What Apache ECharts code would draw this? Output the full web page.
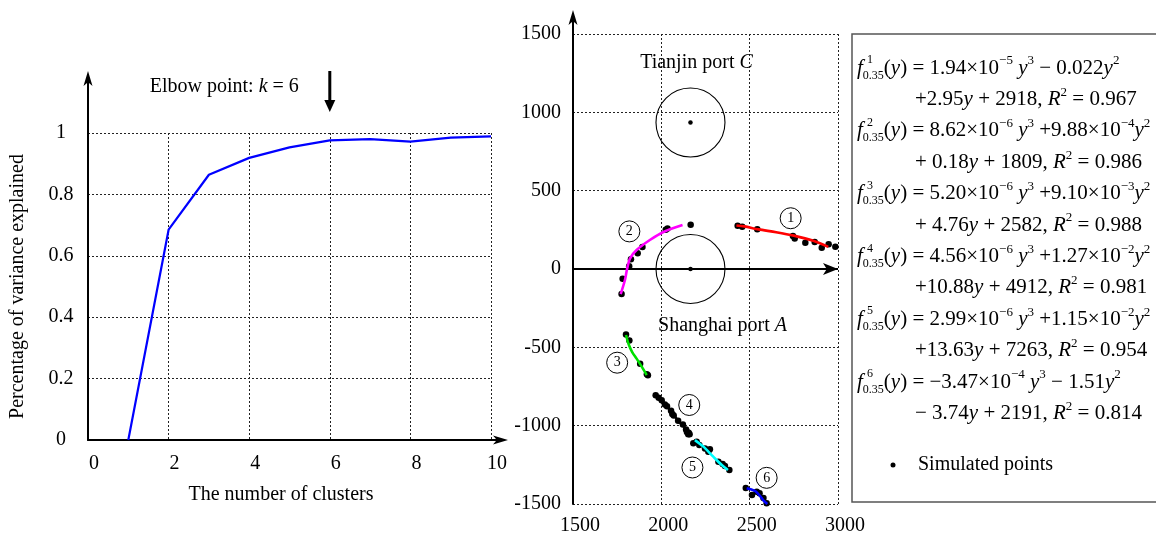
<!DOCTYPE html>
<html><head><meta charset="utf-8">
<script src="https://cdn.jsdelivr.net/npm/echarts@6/dist/echarts.min.js"></script>
<style>html,body{margin:0;padding:0;background:#fff}#c{width:1156px;height:536px}</style>
</head><body><div id="c"></div>
<script>
// ---------- data ----------
const kValues = [1, 2, 3, 4, 5, 6, 7, 8, 9, 10];
const varianceExplained = [0, 0.685, 0.864, 0.919, 0.953, 0.976, 0.980, 0.972, 0.985, 0.989];

const cluster1Points = [[2432,276],[2458,270],[2543,253],[2745,210],[2755,195],[2815,168],[2868,172],[2908,135],[2947,158],[2985,142]];
const cluster1Fit = [[2425,278],[2470,272],[2550,253],[2650,235],[2750,213],[2860,180],[2945,141]];
const cluster2Points = [[1775,-160],[1781,-62],[1818,18],[1828,62],[1866,100],[1893,140],[2025,250],[2035,258],[2166,283]];
const cluster2Fit = [[1770,-160],[1794,-70],[1806,0],[1823,68],[1860,121],[1935,185],[2015,238],[2120,281]];
const cluster3Points = [[1800,-418],[1819,-457],[1880,-604],[1918,-672],[1924,-678]];
const cluster3Fit = [[1800,-421],[1815,-480],[1835,-530],[1860,-572],[1890,-625],[1917,-677]];
const cluster4Points = [[1968,-806],[1985,-822],[2002,-838],[2020,-865],[2032,-876],[2055,-905],[2062,-925],[2070,-935],[2095,-968],[2122,-992],[2140,-1025],[2145,-1040],[2155,-1045],[2160,-1055],[2152,-1055]];
const cluster4Fit = [[1968,-806],[2000,-838],[2030,-872],[2068,-930],[2100,-972],[2135,-1015],[2160,-1052]];
const cluster5Points = [[2181,-1113],[2200,-1102],[2215,-1123],[2247,-1145],[2266,-1166],[2275,-1151],[2323,-1230],[2347,-1245],[2360,-1257],[2385,-1283]];
const cluster5Fit = [[2190,-1092],[2238,-1134],[2294,-1198],[2342,-1251],[2377,-1283]];
const cluster6Points = [[2478,-1398],[2513,-1443],[2540,-1422],[2556,-1432],[2578,-1462],[2596,-1495]];
const cluster6Fit = [[2483,-1400],[2510,-1408],[2535,-1420],[2558,-1448],[2580,-1480],[2600,-1500]];
const ports = [[2165,935],[2165,0]];
const portNames = ['Tianjin port ', 'Shanghai port '];
const portLetters = ['C', 'A'];
const clusterTagPos = [[2732,324],[1819,240],[1750,-598],[2158,-868],[2176,-1267],[2596,-1333]];
const clusterTags = ['1','2','3','4','5','6'];
const fitColors = ['#ff0000','#ff00ff','#00e000','#000000','#00ffff','#0000ff'];

const formulaLines = [
  ['1', '{it|f}{sub|0.35}{n|(}{it|y}{n|) = 1.94×10}{sup|−5}{it| y}{sup|3}{n| − 0.022}{it|y}{sup|2}'],
  [null, '{n|+2.95}{it|y}{n| + 2918, }{it|R}{sup|2}{n| = 0.967}'],
  ['2', '{it|f}{sub|0.35}{n|(}{it|y}{n|) = 8.62×10}{sup|−6}{it| y}{sup|3}{n| +9.88×10}{sup|−4}{it|y}{sup|2}'],
  [null, '{n|+ 0.18}{it|y}{n| + 1809, }{it|R}{sup|2}{n| = 0.986}'],
  ['3', '{it|f}{sub|0.35}{n|(}{it|y}{n|) = 5.20×10}{sup|−6}{it| y}{sup|3}{n| +9.10×10}{sup|−3}{it|y}{sup|2}'],
  [null, '{n|+ 4.76}{it|y}{n| + 2582, }{it|R}{sup|2}{n| = 0.988}'],
  ['4', '{it|f}{sub|0.35}{n|(}{it|y}{n|) = 4.56×10}{sup|−6}{it| y}{sup|3}{n| +1.27×10}{sup|−2}{it|y}{sup|2}'],
  [null, '{n|+10.88}{it|y}{n| + 4912, }{it|R}{sup|2}{n| = 0.981}'],
  ['5', '{it|f}{sub|0.35}{n|(}{it|y}{n|) = 2.99×10}{sup|−6}{it| y}{sup|3}{n| +1.15×10}{sup|−2}{it|y}{sup|2}'],
  [null, '{n|+13.63}{it|y}{n| + 7263, }{it|R}{sup|2}{n| = 0.954}'],
  ['6', '{it|f}{sub|0.35}{n|(}{it|y}{n|) = −3.47×10}{sup|−4}{it| y}{sup|3}{n| − 1.51}{it|y}{sup|2}'],
  [null, '{n|− 3.74}{it|y}{n| + 2191, }{it|R}{sup|2}{n| = 0.814}']
];

// ---------- helpers ----------
const SERIF = '"Liberation Serif", "Times New Roman", serif';
function shaftArrow(w, ext) {
  const h = 2 * ext, half = w / 2, head = 15, neck = 12, sw = 1;
  return 'path://M' + half + ',0 L' + w + ',' + head + ' L' + (half + sw) + ',' + neck +
    ' L' + (half + sw) + ',' + h + ' L' + (half - sw) + ',' + h + ' L' + (half - sw) + ',' + neck +
    ' L0,' + head + ' Z';
}
const gridDot = { show: true, lineStyle: { color: '#222', width: 1, type: [2, 2] } };
const tickFont = { fontFamily: SERIF, fontSize: 20, color: '#000' };
const plain = v => String(v);

const chart = echarts.init(document.getElementById('c'));

const series = [];
series.push({
  type: 'line', xAxisIndex: 0, yAxisIndex: 0,
  data: kValues.map((k, i) => [k, varianceExplained[i]]),
  showSymbol: false, lineStyle: { color: '#0000ff', width: 2.2 }, itemStyle: { color: '#0000ff' },
  z: 5, silent: true
});
const fits = [cluster1Fit, cluster2Fit, cluster3Fit, cluster4Fit, cluster5Fit, cluster6Fit];
const pts = [cluster1Points, cluster2Points, cluster3Points, cluster4Points, cluster5Points, cluster6Points];
pts.forEach((p, i) => series.push({
  type: 'scatter', xAxisIndex: 1, yAxisIndex: 1, data: p, symbolSize: 6.5,
  itemStyle: { color: '#000', opacity: 1 }, z: 5, silent: true,
  markLine: i === 0 ? {
    silent: true, symbol: ['none', 'arrow'], symbolSize: [9, 15], animation: false,
    lineStyle: { color: '#000', width: 2, type: 'solid' }, label: { show: false },
    emphasis: { disabled: true }, data: [{ yAxis: 0 }]
  } : undefined
}));
fits.forEach((f, i) => series.push({
  type: 'line', xAxisIndex: 1, yAxisIndex: 1, data: f, smooth: 0.3, showSymbol: false,
  lineStyle: { color: fitColors[i], width: 2.6 }, itemStyle: { color: fitColors[i] }, z: 6, silent: true
}));
// port circles
series.push({
  type: 'scatter', xAxisIndex: 1, yAxisIndex: 1, silent: true, z: 3,
  data: ports.map((p, i) => ({ value: p, name: portNames[i], letter: portLetters[i] })),
  symbol: 'circle', symbolSize: 69,
  itemStyle: { color: 'rgba(0,0,0,0)', borderColor: '#000', borderWidth: 1.1, opacity: 1 },
  label: {
    show: true, position: 'inside', color: '#000',
    formatter: p => '{n|' + p.name + '}{it|' + p.data.letter + '}',
    rich: {
      n: { fontFamily: SERIF, fontSize: 20, color: '#000' },
      it: { fontFamily: SERIF, fontSize: 20, fontStyle: 'italic', color: '#000' }
    }
  },
  labelLayout: function (params) {
    const i = params.dataIndex;
    const off = i === 0 ? [6, -60] : [32, 57];
    const r = params.rect;
    return { x: r.x + r.width / 2 + off[0] - params.labelRect.width / 2, y: r.y + r.height / 2 + off[1] - params.labelRect.height / 2 };
  }
});
series.push({
  type: 'scatter', xAxisIndex: 1, yAxisIndex: 1, silent: true, z: 6,
  data: ports, symbolSize: 4.5, itemStyle: { color: '#000', opacity: 1 }
});
// circled cluster numbers
series.push({
  type: 'scatter', xAxisIndex: 1, yAxisIndex: 1, silent: true, z: 7,
  data: clusterTagPos.map((p, i) => ({ value: p, name: clusterTags[i] })),
  symbol: 'circle', symbolSize: 21,
  itemStyle: { color: 'rgba(255,255,255,0)', borderColor: '#000', borderWidth: 1, opacity: 1 },
  label: { show: true, position: 'inside', formatter: '{b}', fontFamily: SERIF, fontSize: 14, color: '#000' }
});

const option = {
  animation: false,
  backgroundColor: '#fff',
  grid: [
    { left: 88, top: 133, width: 403, height: 307 },
    { left: 573, top: 34, width: 265, height: 470 }
  ],
  xAxis: [
    {
      gridIndex: 0, type: 'value', min: 0, max: 10, interval: 2,
      axisLine: { show: true, onZero: false, symbol: ['none', shaftArrow(9, 17)], symbolSize: [9, 34], lineStyle: { color: '#000', width: 2 } },
      axisTick: { show: false },
      splitLine: Object.assign({ showMinLine: false }, gridDot),
      axisLabel: Object.assign({ margin: 14, padding: [0, 0, 0, 12], formatter: plain }, tickFont),
      name: 'The number of clusters', nameLocation: 'middle', nameGap: 45,
      nameTextStyle: { fontFamily: SERIF, fontSize: 20, color: '#000', padding: [0, 17, 0, 0] }
    },
    {
      gridIndex: 1, type: 'value', min: 1500, max: 3000, interval: 500,
      axisLine: { show: false, onZero: false },
      axisTick: { show: false },
      splitLine: gridDot,
      axisLabel: Object.assign({ margin: 12, padding: [0, 0, 0, 14], formatter: plain }, tickFont)
    }
  ],
  yAxis: [
    {
      gridIndex: 0, type: 'value', min: 0, max: 1, interval: 0.2,
      axisLine: { show: true, onZero: false, symbol: ['none', shaftArrow(9, 62)], symbolSize: [9, 124], lineStyle: { color: '#000', width: 2 } },
      axisTick: { show: false },
      splitLine: Object.assign({ showMinLine: false }, gridDot),
      axisLabel: Object.assign({ margin: 27, align: 'center', formatter: plain }, tickFont),
      name: 'Percentage of variance explained', nameLocation: 'middle', nameGap: 60,
      nameTextStyle: { fontFamily: SERIF, fontSize: 20, color: '#000' }
    },
    {
      gridIndex: 1, type: 'value', min: -1500, max: 1500, interval: 500,
      axisLine: { show: true, onZero: false, symbol: ['none', shaftArrow(9, 24)], symbolSize: [9, 48], lineStyle: { color: '#000', width: 2 } },
      axisTick: { show: false },
      splitLine: gridDot,
      axisLabel: Object.assign({ margin: 12, formatter: plain }, tickFont)
    }
  ],
  series: series
};
chart.setOption(option);

// ---------- annotations (positioned from the axes) ----------
const anchor = chart.convertToPixel({ gridIndex: 0 }, [6, 1]);
const ax = anchor[0], ay = anchor[1];
const graphics = [];
graphics.push({
  type: 'text', x: ax - 31, y: ay - 46, silent: true,
  style: {
    text: '{n|Elbow point: }{it|k}{n| = 6}', align: 'right', verticalAlign: 'middle',
    rich: {
      n: { fontFamily: SERIF, fontSize: 20, fill: '#000' },
      it: { fontFamily: SERIF, fontSize: 20, fontStyle: 'italic', fill: '#000' }
    }
  }
});
graphics.push({ type: 'line', silent: true, shape: { x1: ax, y1: ay - 62, x2: ax, y2: ay - 30 }, style: { stroke: '#000', lineWidth: 3 } });
graphics.push({ type: 'polygon', silent: true, shape: { points: [[ax - 5.5, ay - 33], [ax + 5.5, ay - 33], [ax, ay - 21]] }, style: { fill: '#000' } });

// formula box
graphics.push({ type: 'rect', silent: true, shape: { x: 852, y: 34, width: 320, height: 468 }, style: { fill: 'none', stroke: '#555', lineWidth: 1.5 } });
const richF = {
  n: { fontFamily: SERIF, fontSize: 21, lineHeight: 27, fill: '#000' },
  it: { fontFamily: SERIF, fontSize: 21, lineHeight: 27, fontStyle: 'italic', fill: '#000' },
  sup: { fontFamily: SERIF, fontSize: 13, lineHeight: 15, verticalAlign: 'top', fill: '#000' },
  sub: { fontFamily: SERIF, fontSize: 12, lineHeight: 12, verticalAlign: 'bottom', fill: '#000' }
};
formulaLines.forEach((ln, i) => {
  const cy = 68 + i * 31.4;
  const x0 = ln[0] ? 857 : 915;
  graphics.push({ type: 'text', silent: true, x: x0, y: cy, style: { text: ln[1], rich: richF, verticalAlign: 'middle', align: 'left' } });
  if (ln[0]) {
    graphics.push({ type: 'text', silent: true, x: x0 + 10, y: cy - 8, style: { text: ln[0], fontFamily: SERIF, fontSize: 12, fill: '#000', verticalAlign: 'middle', align: 'left' } });
  }
});
graphics.push({ type: 'circle', silent: true, shape: { cx: 893, cy: 465, r: 2.5 }, style: { fill: '#000' } });
graphics.push({ type: 'text', silent: true, x: 918, y: 465, style: { text: 'Simulated points', fontFamily: SERIF, fontSize: 20, fill: '#000', verticalAlign: 'middle' } });

chart.setOption({ graphic: graphics });
</script>
</body></html>
